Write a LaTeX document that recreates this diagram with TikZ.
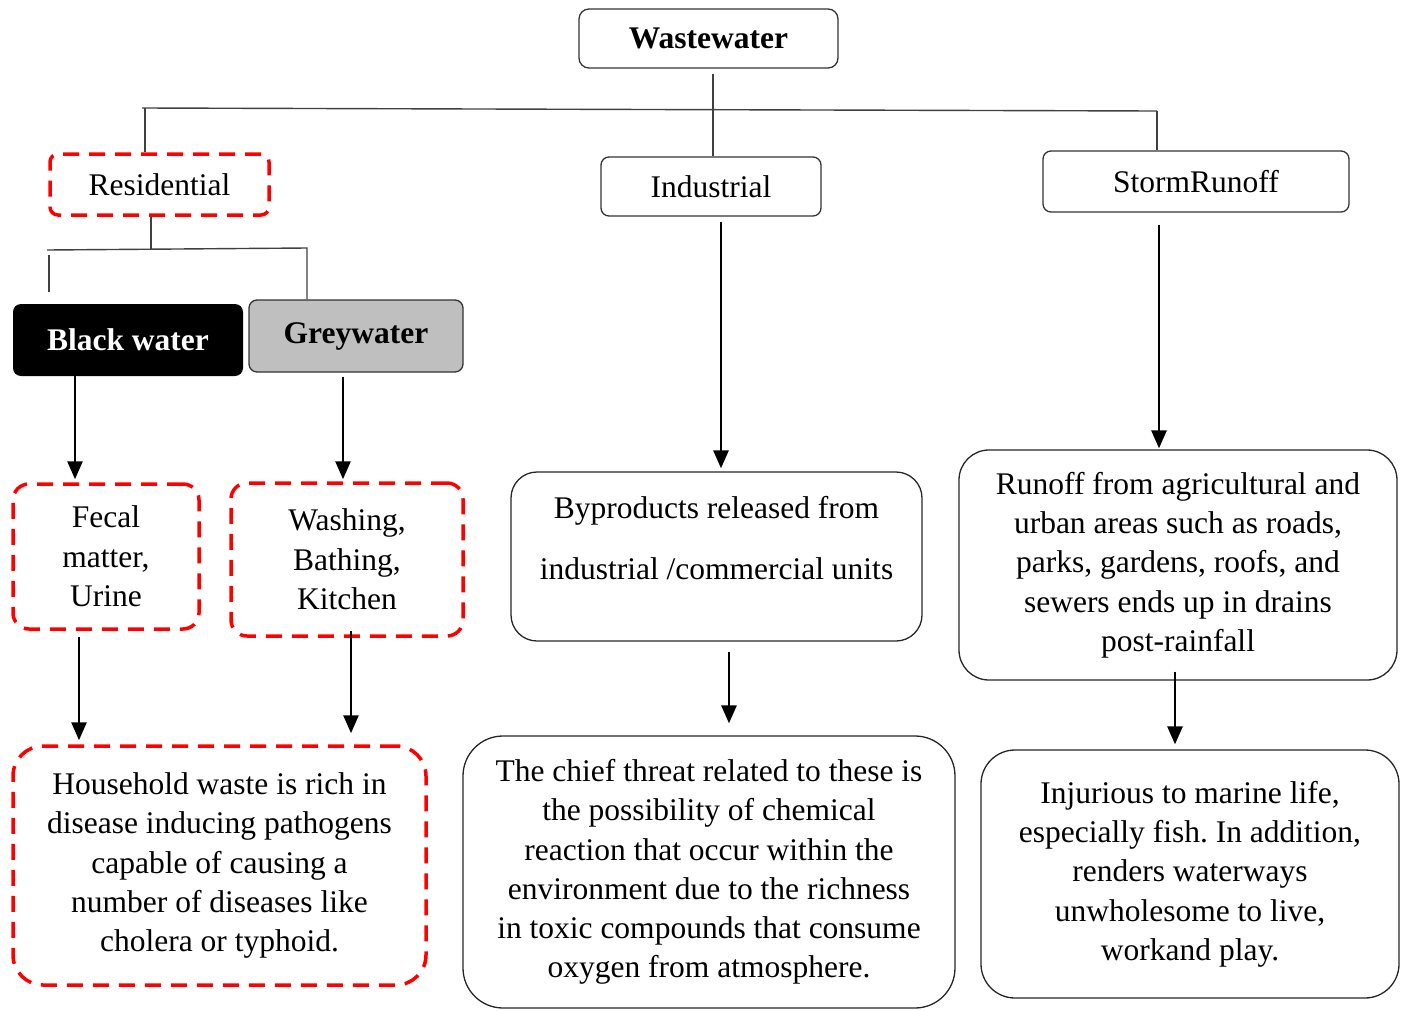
\documentclass[tikz,border=0pt]{standalone}
\usepackage{fontspec}
\setmainfont{Liberation Serif}
\usetikzlibrary{arrows.meta}
\frenchspacing
\tikzset{
  txt/.style={font=\fontsize{31.5}{39.3}\selectfont, align=center, inner sep=0pt},
  plainbox/.style={txt, draw=black!80, line width=1.3pt, rounded corners=8pt},
  redbox/.style={txt, draw=red, line width=3.5pt, dash pattern=on 16pt off 10pt, rounded corners=16pt},
  bigbox/.style={txt, draw=black!85, line width=1.3pt, rounded corners=32pt},
  tree/.style={draw=black!75, line width=1.4pt},
  arr/.style={draw=black, line width=2.8pt, -{Triangle[length=18pt,width=15pt]}}
}
\begin{document}
\begin{tikzpicture}[x=1pt, y=-1pt]
      \useasboundingbox (0,0) rectangle (1401,1010);
      % top level
      \node[plainbox, rounded corners=10pt, minimum width=259pt, minimum height=59pt, font=\fontsize{31.5}{39.3}\selectfont\bfseries] (ww) at (708.5, 38.5) {Wastewater};
      \node[redbox, rounded corners=8pt, minimum width=219pt, minimum height=61pt] (res) at (159.5, 184.5) {Residential};
      \node[plainbox, minimum width=220pt, minimum height=59pt] (ind) at (711, 186.5) {Industrial};
      \node[plainbox, minimum width=306pt, minimum height=61pt] (storm) at (1196, 181.5) {StormRunoff};
      \coordinate (barL) at (142, 108);
      \coordinate (barR) at (1157, 111);
      \coordinate (resTop) at (145, 108);
      \draw[tree] (barL) -- (barR);
      \draw[tree] (resTop) -- (resTop |- res.north);
      \draw[tree] (barR) -- (barR |- storm.north);
      \draw[tree] ([xshift=4.5pt, yshift=-5pt]ww.south) -- ([xshift=4.5pt]ww.south |- ind.north);
      % residential split
      \node[txt, fill=black, text=white, rounded corners=8pt, minimum width=230pt, minimum height=72pt, font=\fontsize{31.5}{39.3}\selectfont\bfseries] (bw) at (128, 340) {Black water};
      \node[plainbox, fill=black!25, minimum width=214pt, minimum height=72pt, font=\fontsize{31.5}{39.3}\selectfont\bfseries] (gw) at (356, 336) {Greywater};
      \coordinate (subL) at (47, 250);
      \coordinate (subR) at (307, 248);
      \coordinate (bwTop) at (49, 255);
      \draw[tree] ([xshift=-8.5pt]res.south) -- ([xshift=-8.5pt]res.south |- 0, 249);
      \draw[tree] (subL) -- (subR) -- (subR |- gw.north);
      \draw[tree] (bwTop) -- ++(0, 37);
      \node[redbox, minimum width=186pt, minimum height=145pt] (fecal) at (106, 556.5) {Fecal\\matter,\\Urine};
      \node[redbox, minimum width=232pt, minimum height=153pt] (wash) at (347, 559.5) {Washing,\\Bathing,\\Kitchen};
      \node[redbox, rounded corners=30pt, minimum width=413pt, minimum height=239pt] (house) at (219.5, 865.5) {Household waste is rich in\\disease inducing pathogens\\capable of causing a\\number of diseases like\\cholera or typhoid.};
      \draw[arr, shorten >=3pt] ([xshift=-53pt]bw.south) -- ([xshift=-53pt]bw.south |- fecal.north);
      \draw[arr, shorten <=4pt, shorten >=2pt] ([xshift=-13pt]gw.south) -- ([xshift=-13pt]gw.south |- wash.north);
      \draw[arr, shorten <=6pt, shorten >=4pt] ([xshift=-27pt]fecal.south) -- ([xshift=-27pt]fecal.south |- house.north);
      \draw[arr, shorten <=-7pt, shorten >=11pt] ([xshift=4pt]wash.south) -- ([xshift=4pt]wash.south |- house.north);
      % industrial branch
      \node[bigbox, rounded corners=26pt, minimum width=411pt, minimum height=169pt] (byp) at (716.5, 556.5) {};
      \node[txt, font=\fontsize{31.5}{61}\selectfont] (byptxt) at (716.5, 538) {Byproducts released from\\industrial /commercial units};
      \node[bigbox, rounded corners=40pt, minimum width=492pt, minimum height=272pt] (threat) at (709, 872) {The chief threat related to these is\\the possibility of chemical\\reaction that occur within the\\environment due to the richness\\in toxic compounds that consume\\oxygen from atmosphere.};
      \draw[arr, shorten <=5pt, shorten >=3pt] ([xshift=10pt]ind.south) -- ([xshift=10pt]ind.south |- byp.north);
      \draw[arr, shorten <=10pt, shorten >=12pt] ([xshift=12.5pt]byp.south) -- ([xshift=12.5pt]byp.south |- threat.north);
      % storm runoff branch
      \node[bigbox, rounded corners=30pt, minimum width=438pt, minimum height=230pt] (runoff) at (1178, 565) {Runoff from agricultural and\\urban areas such as roads,\\parks, gardens, roofs, and\\sewers ends up in drains\\post-rainfall};
      \node[bigbox, rounded corners=34pt, minimum width=418pt, minimum height=248pt] (injur) at (1190, 874) {Injurious to marine life,\\especially fish. In addition,\\renders waterways\\unwholesome to live,\\workand play.};
      \draw[arr, shorten <=12pt, shorten >=1pt] ([xshift=-37pt]storm.south) -- ([xshift=-37pt]storm.south |- runoff.north);
      \draw[arr, shorten <=-9pt, shorten >=5pt] ([xshift=-3pt]runoff.south) -- ([xshift=-3pt]runoff.south |- injur.north);
    \end{tikzpicture}
\end{document}
